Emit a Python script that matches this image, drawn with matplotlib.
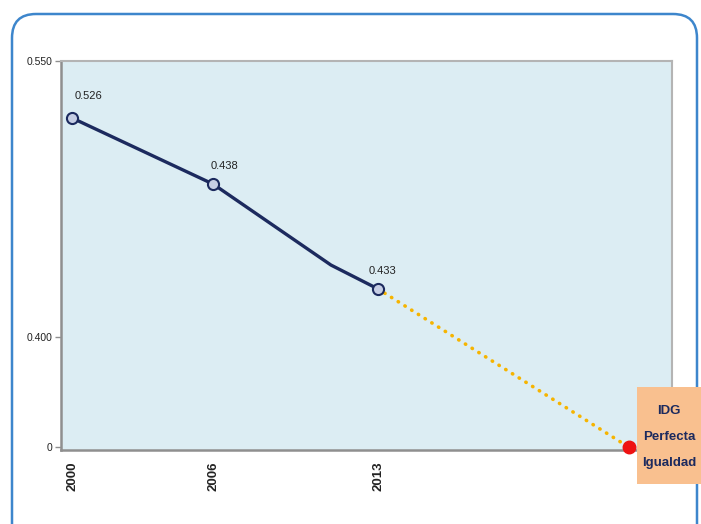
import numpy as np
import matplotlib
matplotlib.use("Agg")
import matplotlib.pyplot as plt
from matplotlib.patches import FancyBboxPatch, Rectangle

# data
years = [2000, 2006, 2011, 2013]          # 2011 = bend in the line, no marker
values = [0.519, 0.483, 0.439, 0.426]
marked_years = [2000, 2006, 2013]
marked_values = [0.519, 0.483, 0.426]
value_labels = ["0.526", "0.438", "0.433"]
target_year = 2023.66
target_value = 0.0
target_label = "IDG\nPerfecta\nIgualdad"
year_ticks = [2000, 2006, 2013]
year_labels = ["2000", "2006", "2013"]
y_ticks = [0.0, 0.400, 0.550]
y_labels = ["0", "0.400", "0.550"]

NARROW = ["Liberation Sans", "DejaVu Sans"]
NAVY = "#1c2a5e"

# piecewise y axis: the low band (0..0.4) is squeezed
K_LO = 111 / 0.4
K_HI = 277 / 0.15


def fwd(v):
    v = np.asarray(v, dtype=float)
    return np.where(v <= 0.4, v * K_LO, 0.4 * K_LO + (v - 0.4) * K_HI)


def inv(p):
    p = np.asarray(p, dtype=float)
    b = 0.4 * K_LO
    return np.where(p <= b, p / K_LO, 0.4 + (p - b) / K_HI)


W, H = 701, 524
fig = plt.figure(figsize=(W / 100, H / 100), dpi=100)
fig.patch.set_facecolor("white")

# rounded outer frame (bottom runs off the picture)
frame = FancyBboxPatch((0.12, -0.30), 6.85, 5.40,
                       boxstyle="round,pad=0,rounding_size=0.24",
                       transform=fig.dpi_scale_trans, fill=False,
                       edgecolor="#3d86cc", linewidth=1.8, clip_on=False)
fig.add_artist(frame)

ax = fig.add_axes([61 / W, (H - 450) / H, 611 / W, 389 / H])
ax.set_facecolor("#dcedf3")
ax.set_yscale("function", functions=(fwd, inv))
ax.set_ylim(-0.01, 0.55)
ax.set_xlim(1999.53, 2025.49)

for side in ("top", "right"):
    ax.spines[side].set_color("#b4b4b4")
    ax.spines[side].set_linewidth(1.5)
for side in ("left", "bottom"):
    ax.spines[side].set_color("#8f8f8f")
    ax.spines[side].set_linewidth(1.8)

# projection to perfect equality
ax.plot([marked_years[-1], target_year], [marked_values[-1], target_value],
        color="#f6b400", linewidth=2.6, linestyle=(0, (0.1, 2.1)),
        dash_capstyle="round", zorder=2)

ax.plot(years, values, color=NAVY, linewidth=2.4, zorder=3,
        solid_joinstyle="round")
ax.plot(marked_years, marked_values, linestyle="none", marker="o",
        markersize=8, markerfacecolor="#c6cee4", markeredgecolor=NAVY,
        markeredgewidth=1.5, zorder=4)

ax.plot([target_year], [target_value], linestyle="none", marker="o",
        markersize=9, color="#ee1111", zorder=5, clip_on=False)

offsets = [(12, 13.7), (8, 10.8), (3, 10.8)]
for x, y, txt, off in zip(marked_years, marked_values, value_labels, offsets):
    ax.annotate(txt, (x, y), xytext=off, textcoords="offset points",
                ha="center", va="baseline", fontsize=8, color="#222222",
                family=NARROW)

ax.set_yticks(y_ticks)
ax.set_yticklabels(y_labels, family=NARROW, fontsize=7.5, color="#222222")
ax.tick_params(axis="y", length=4, width=1, color="#8f8f8f", pad=2)
ax.set_xticks(year_ticks)
ax.set_xticklabels(year_labels, rotation=90, fontsize=9.5, color="#222222",
                   fontweight="bold", family=NARROW)
ax.tick_params(axis="x", length=0, pad=8)

# label box for the target point
box = Rectangle((6.37, 0.40), 0.70, 0.97, transform=fig.dpi_scale_trans,
                facecolor="#f9c08f", edgecolor="none", clip_on=False)
fig.add_artist(box)
fig.text(669 / W, (H - 437) / H, target_label, ha="center", va="center",
         fontsize=9.5, fontweight="bold", color=NAVY, family=NARROW,
         linespacing=2.55)

fig.savefig("out.png", dpi=100)
